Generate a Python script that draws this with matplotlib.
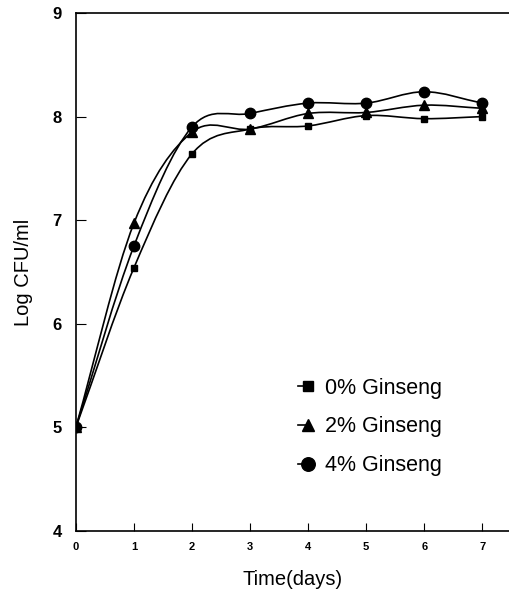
import numpy as np
import matplotlib
matplotlib.use("Agg")
import matplotlib.pyplot as plt
from matplotlib.path import Path
from matplotlib.patches import PathPatch
from matplotlib.lines import Line2D
from matplotlib.legend_handler import HandlerLine2D

plt.rcParams['font.family'] = ['Liberation Sans', 'DejaVu Sans']

days = [0, 1, 2, 3, 4, 5, 6, 7]
ginseng_0 = [5.00, 6.54, 7.64, 7.88, 7.91, 8.01, 7.98, 8.00]
ginseng_2 = [5.00, 6.97, 7.85, 7.88, 8.03, 8.04, 8.11, 8.08]
ginseng_4 = [5.00, 6.75, 7.90, 8.03, 8.13, 8.13, 8.24, 8.13]

series = [
    ("0% Ginseng", ginseng_0, "s", 5),
    ("2% Ginseng", ginseng_2, "^", 7),
    ("4% Ginseng", ginseng_4, "o", 7.5),
]


def smooth_path(x, y):
    # catmull-rom through the points, as cubic bezier segments
    x = np.asarray(x, float)
    y = np.asarray(y, float)
    n = len(x)
    m = np.zeros(n)
    m[0] = (y[1] - y[0]) / (x[1] - x[0])
    m[-1] = (y[-1] - y[-2]) / (x[-1] - x[-2])
    for i in range(1, n - 1):
        m[i] = (y[i + 1] - y[i - 1]) / (x[i + 1] - x[i - 1])
    verts = [(x[0], y[0])]
    codes = [Path.MOVETO]
    for i in range(n - 1):
        h = x[i + 1] - x[i]
        verts += [(x[i] + h / 3, y[i] + m[i] * h / 3),
                  (x[i + 1] - h / 3, y[i + 1] - m[i + 1] * h / 3),
                  (x[i + 1], y[i + 1])]
        codes += [Path.CURVE4] * 3
    return Path(verts, codes)


class StubHandler(HandlerLine2D):
    # short line on the left, marker at its right end
    def create_artists(self, legend, orig_handle, xdescent, ydescent,
                       width, height, fontsize, trans):
        y = (height - ydescent) / 2
        line = Line2D([-xdescent, -xdescent + width], [y, y])
        self.update_prop(line, orig_handle, legend)
        line.set_marker("")
        mark = Line2D([-xdescent + width], [y])
        self.update_prop(mark, orig_handle, legend)
        mark.set_linestyle("")
        line.set_transform(trans)
        mark.set_transform(trans)
        return [line, mark]


fig = plt.figure(figsize=(5.09, 5.91), dpi=100)
ax = fig.add_axes([0.149, 0.1015, 0.851, 0.8765])

handles = []
for label, vals, mk, ms in series:
    ax.add_patch(PathPatch(smooth_path(days, vals), fill=False, lw=1.2, color="black"))
    ax.plot(days, vals, linestyle="none", marker=mk, ms=ms, color="black")
    handles.append(Line2D([], [], marker=mk, ms=ms * 1.3, color="black", lw=1.2,
                          label=label))

ax.set_xlim(0, 7.46)
ax.set_ylim(4, 9)
ax.set_xticks(days)
ax.set_yticks([4, 5, 6, 7, 8, 9])
ax.tick_params(axis="x", direction="in", length=6, labelsize=8, pad=8)
ax.tick_params(axis="y", direction="in", length=7, labelsize=12, pad=10)
for t in ax.get_xticklabels() + ax.get_yticklabels():
    t.set_fontweight("bold")
ax.spines["right"].set_visible(False)
for s in ["left", "top", "bottom"]:
    ax.spines[s].set_linewidth(1.2)

ax.set_xlabel("Time(days)", fontsize=14.5, labelpad=13)
ax.set_ylabel("Log CFU/ml", fontsize=14.5, labelpad=14)

ax.legend(handles=handles, handler_map={Line2D: StubHandler()}, loc="center left",
          bbox_to_anchor=(0.513, 0.201), frameon=False,
          fontsize=15.5, handlelength=0.48, handletextpad=0.75, labelspacing=0.83,
          borderpad=0, borderaxespad=0)

fig.savefig("out.png", dpi=100)
